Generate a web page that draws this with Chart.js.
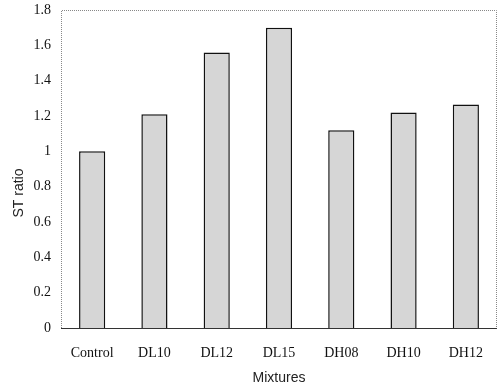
<!DOCTYPE html>
<html>
<head>
<meta charset="utf-8">
<script src="https://cdn.jsdelivr.net/npm/chart.js@4"></script>
<style>
  html, body { margin: 0; padding: 0; background: #fff; }
  #wrap { width: 497px; height: 391px; }
</style>
</head>
<body>
<div id="wrap"><canvas id="myChart" width="497" height="391"></canvas></div>
<script>
// Categories along the x-axis
var mixtures = ["Control", "DL10", "DL12", "DL15", "DH08", "DH10", "DH12"];
// ST ratio for each mixture
var stRatio = [1.0, 1.21, 1.56, 1.70, 1.12, 1.22, 1.265];
// Y axis range
var yMin = 0, yMax = 1.8, yStep = 0.2;

// draws the y title and the dotted frame
var extras = {
  id: 'extras',
  beforeDatasetsDraw: function(chart) {
    var a = chart.chartArea, c = chart.ctx;
    c.save();
    c.strokeStyle = '#888';
    c.lineWidth = 1;
    c.setLineDash([1, 1]);
    c.beginPath();
    c.moveTo(a.left + 0.5, a.bottom);
    c.lineTo(a.left + 0.5, a.top + 0.5);
    c.lineTo(a.right - 0.5, a.top + 0.5);
    c.lineTo(a.right - 0.5, a.bottom);
    c.stroke();
    c.restore();
  },
  afterDraw: function(chart) {
    var c = chart.ctx;
    c.save();
    c.translate(19, 193);
    c.rotate(-Math.PI / 2);
    c.fillStyle = '#222';
    c.font = '14px "Liberation Sans", Arial, sans-serif';
    c.textAlign = 'center';
    c.textBaseline = 'middle';
    c.fillText('ST ratio', 0, 0);
    c.restore();
  }
};

var ctx = document.getElementById("myChart");
var myChart = new Chart(ctx, {
  type: 'bar',
  data: {
    labels: mixtures,
    datasets: [
      {
        data: stRatio,
        backgroundColor: '#d6d6d6',
        borderColor: '#111',
        borderWidth: 1.5,
        barPercentage: 0.42,
        categoryPercentage: 1.0
      }
    ]
  },
  plugins: [extras],
  options: {
    responsive: false,
    animation: false,
    layout: { padding: { top: 10, right: 0, left: 0, bottom: 0 } },
    plugins: { legend: { display: false }, tooltip: { enabled: false } },
    scales: {
      x: {
        grid: { display: false, drawTicks: false },
        border: { color: '#333', width: 1 },
        ticks: {
          color: '#111',
          padding: 17,
          font: { family: '"Liberation Serif", "Times New Roman", serif', size: 14 }
        },
        title: {
          display: true,
          text: 'Mixtures',
          color: '#222',
          padding: { top: 0, bottom: 4 },
          font: { family: '"Liberation Sans", Arial, sans-serif', size: 14 }
        },
        afterFit: function(scale) { scale.height = 63; scale.paddingLeft = 0; scale.paddingRight = 0; }
      },
      y: {
        min: yMin,
        max: yMax,
        grid: { display: false, drawTicks: false },
        border: { display: false },
        ticks: {
          stepSize: yStep,
          color: '#111',
          padding: 10,
          font: { family: '"Liberation Serif", "Times New Roman", serif', size: 14 },
          callback: function(v) { return String(Number(v.toFixed(1))); }
        },
        afterFit: function(scale) { scale.width = 61; scale.paddingTop = 0; scale.paddingBottom = 0; }
      }
    }
  }
});
</script>
</body>
</html>
